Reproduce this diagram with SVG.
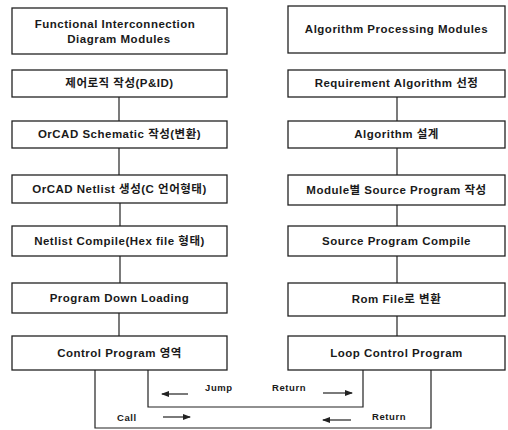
<svg xmlns="http://www.w3.org/2000/svg" width="508" height="430" viewBox="0 0 508 430">
<defs>
<style>
.box{fill:#fff;stroke:#222;stroke-width:1.3}
.t{font-family:"Liberation Sans","Noto Sans CJK KR",sans-serif;font-weight:bold;font-size:11.5px;letter-spacing:0.5px;fill:#1a1a1a;text-anchor:middle}
.l{font-family:"Liberation Sans",sans-serif;font-weight:bold;font-size:9.5px;letter-spacing:0.6px;fill:#1a1a1a}
.c{fill:none;stroke:#222;stroke-width:1.2}
.a{fill:none;stroke:#222;stroke-width:1.2}
</style>
<marker id="ah" viewBox="0 0 8 6" refX="7" refY="3" markerWidth="8" markerHeight="6" markerUnits="userSpaceOnUse" orient="auto">
<path d="M0,0 L8,3 L0,6 Z" fill="#222"/>
</marker>
</defs>
<rect width="508" height="430" fill="#fff"/>

<g id="connectors">
<line class="c" x1="119" y1="97" x2="119" y2="121"/>
<line class="c" x1="119" y1="148" x2="119" y2="175"/>
<line class="c" x1="120" y1="203" x2="120" y2="226"/>
<line class="c" x1="120" y1="256" x2="120" y2="283"/>
<line class="c" x1="119" y1="313" x2="119" y2="336"/>
<line class="c" x1="397" y1="97" x2="397" y2="121"/>
<line class="c" x1="397" y1="148" x2="397" y2="175"/>
<line class="c" x1="397" y1="205" x2="397" y2="226"/>
<line class="c" x1="397" y1="256" x2="397" y2="283"/>
<line class="c" x1="397" y1="316" x2="397" y2="336"/>
<polyline class="c" points="148,370 148,407 363,407 363,370"/>
<polyline class="c" points="95,370 95,428 431,428 431,370"/>
<line class="a" x1="188" y1="394" x2="162" y2="394" marker-end="url(#ah)"/>
<line class="a" x1="323" y1="393" x2="352" y2="393" marker-end="url(#ah)"/>
<line class="a" x1="163" y1="417" x2="190" y2="417" marker-end="url(#ah)"/>
<line class="a" x1="351" y1="420" x2="323" y2="420" marker-end="url(#ah)"/>
<text class="l" x="205" y="391">Jump</text>
<text class="l" x="272" y="391">Return</text>
<text class="l" x="117" y="421">Call</text>
<text class="l" x="372" y="420">Return</text>
</g>

<g id="L1"><rect class="box" x="12" y="8" width="215" height="46"/>
<text class="t" x="115" y="28">Functional Interconnection</text>
<text class="t" x="119" y="43">Diagram Modules</text></g>
<g id="L2"><rect class="box" x="12" y="70" width="215" height="27"/>
<text class="t" x="119.5" y="87">제어로직 작성(P&amp;ID)</text></g>
<g id="L3"><rect class="box" x="12" y="121" width="215" height="27"/>
<text class="t" x="119.5" y="138">OrCAD Schematic 작성(변환)</text></g>
<g id="L4"><rect class="box" x="12" y="175" width="215" height="28"/>
<text class="t" x="119.5" y="193">OrCAD Netlist 생성(C 언어형태)</text></g>
<g id="L5"><rect class="box" x="12" y="226" width="215" height="30"/>
<text class="t" x="119.5" y="245">Netlist Compile(Hex file 형태)</text></g>
<g id="L6"><rect class="box" x="12" y="283" width="215" height="30"/>
<text class="t" x="119.5" y="302">Program Down Loading</text></g>
<g id="L7"><rect class="box" x="12" y="336" width="215" height="34"/>
<text class="t" x="119.5" y="357">Control Program 영역</text></g>

<g id="R1"><rect class="box" x="288" y="6" width="217" height="47"/>
<text class="t" x="396.5" y="33">Algorithm Processing Modules</text></g>
<g id="R2"><rect class="box" x="288" y="70" width="217" height="27"/>
<text class="t" x="396.5" y="87">Requirement Algorithm 선정</text></g>
<g id="R3"><rect class="box" x="288" y="121" width="217" height="27"/>
<text class="t" x="396.5" y="138">Algorithm 설계</text></g>
<g id="R4"><rect class="box" x="288" y="175" width="217" height="30"/>
<text class="t" x="396.5" y="194">Module별 Source Program 작성</text></g>
<g id="R5"><rect class="box" x="288" y="226" width="217" height="30"/>
<text class="t" x="396.5" y="245">Source Program Compile</text></g>
<g id="R6"><rect class="box" x="288" y="283" width="217" height="33"/>
<text class="t" x="396.5" y="303">Rom File로 변환</text></g>
<g id="R7"><rect class="box" x="288" y="336" width="217" height="34"/>
<text class="t" x="396.5" y="357">Loop Control Program</text></g>
</svg>
